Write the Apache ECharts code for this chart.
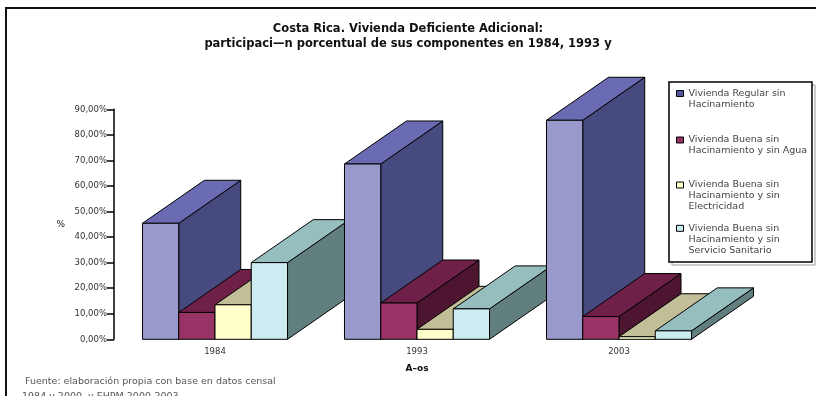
<!DOCTYPE html>
<html>
<head>
<meta charset="utf-8">
<script src="https://cdn.jsdelivr.net/npm/echarts@6/dist/echarts.min.js"></script>
<style>
  html, body { margin: 0; padding: 0; background: #fff; }
  #chart { width: 816px; height: 396px; }
</style>
</head>
<body>
<div id="chart"></div>
<script>
// Años del censo / encuesta
const years = ['1984', '1993', '2003'];

// Participación porcentual de cada componente (%)
const regularSinHacinamiento = [45.4, 68.6, 85.7];
const buenaSinAgua = [10.5, 14.2, 8.9];
const buenaSinElectricidad = [13.5, 3.9, 1.0];
const buenaSinSanitario = [30.0, 11.9, 3.3];

const seriesNames = [
  'Vivienda Regular sin\nHacinamiento',
  'Vivienda Buena sin\nHacinamiento y sin Agua',
  'Vivienda Buena sin\nHacinamiento y sin\nElectricidad',
  'Vivienda Buena sin\nHacinamiento y sin\nServicio Sanitario'
];

// Escala del eje de valores
const yMin = 0;
const yMax = 90;
const yStep = 10;

const FONT = 'DejaVu Sans';

// Front / top / side shading of each box, plus the legend key colour
const SHADES = [
  { front: '#9999cc', top: '#6b6bb3', side: '#474a7e', key: '#55559c' },
  { front: '#993366', top: '#6e2048', side: '#4d1530', key: '#993366' },
  { front: '#ffffcc', top: '#c2bf98', side: '#8c8a6e', key: '#ffffcc' },
  { front: '#ccecf1', top: '#96bebe', side: '#627f7f', key: '#ccecf1' }
];

// Oblique projection of the box depth
const DEPTH_X = 62;
const DEPTH_Y = -43;
// Width of one box as a share of the category band
const BAR_SHARE = 0.1795;
const SERIES_COUNT = 4;

function boxRenderer(k) {
  return function (params, api) {
    const cat = api.value(0);
    const v = api.value(1);
    const base = api.coord([cat, 0]);
    const head = api.coord([cat, v]);
    const w = api.size([1, 0])[0] * BAR_SHARE;
    const x0 = base[0] - (SERIES_COUNT / 2) * w + k * w;
    const x1 = x0 + w;
    const yb = base[1];
    const yt = head[1];
    // paint order: category by category, left to right inside each cluster
    const z2 = cat * 10 + k;
    const c = SHADES[k];
    const edge = { stroke: '#000', lineWidth: 1, lineJoin: 'miter' };
    return {
      type: 'group',
      children: [
        {
          type: 'polygon', z2: z2,
          shape: { points: [[x1, yb], [x1 + DEPTH_X, yb + DEPTH_Y], [x1 + DEPTH_X, yt + DEPTH_Y], [x1, yt]] },
          style: Object.assign({ fill: c.side }, edge)
        },
        {
          type: 'polygon', z2: z2,
          shape: { points: [[x0, yt], [x1, yt], [x1 + DEPTH_X, yt + DEPTH_Y], [x0 + DEPTH_X, yt + DEPTH_Y]] },
          style: Object.assign({ fill: c.top }, edge)
        },
        {
          type: 'polygon', z2: z2,
          shape: { points: [[x0, yb], [x1, yb], [x1, yt], [x0, yt]] },
          style: Object.assign({ fill: c.front }, edge)
        }
      ]
    };
  };
}

const seriesValues = [regularSinHacinamiento, buenaSinAgua, buenaSinElectricidad, buenaSinSanitario];

const series = seriesValues.map(function (vals, k) {
  return {
    type: 'custom',
    name: seriesNames[k],
    renderItem: boxRenderer(k),
    itemStyle: { color: SHADES[k].front },
    encode: { x: 0, y: 1 },
    data: vals.map(function (v, i) { return [i, v]; })
  };
});

// One legend block per series; blank lines above keep the key square
// level with the first line of its (vertically centred) text
const LINE_H = 11;
const KEY_CENTER_Y = [93.5, 140, 185, 228.3];
const legends = seriesNames.map(function (name, k) {
  const lines = name.split('\n').length;
  const lead = new Array(lines).join('\n');
  return {
    data: [{ name: name, itemStyle: { color: SHADES[k].key, borderColor: '#000', borderWidth: 1 } }],
    formatter: function (n) { return lead + n; },
    left: 676,
    top: KEY_CENTER_Y[k] - (2 * lines - 1) * LINE_H / 2,
    padding: 0,
    icon: 'rect',
    itemWidth: 7,
    itemHeight: 6,
    selectedMode: false,
    textStyle: {
      fontFamily: FONT,
      fontSize: 9.5,
      lineHeight: LINE_H,
      color: '#444'
    }
  };
});

const chart = echarts.init(document.getElementById('chart'), null, { renderer: 'canvas' });

chart.setOption({
  animation: false,
  backgroundColor: '#fff',
  title: {
    text: 'Costa Rica. Vivienda Deficiente Adicional:\nparticipaci\u2014n porcentual de sus componentes en 1984, 1993 y',
    left: 'center',
    top: 21.5,
    padding: 0,
    textStyle: { fontFamily: FONT, fontSize: 11.5, fontWeight: 'bold', lineHeight: 15, color: '#111' }
  },
  legend: legends,
  grid: { left: 114, right: 96, top: 109.3, bottom: 56.7, containLabel: false },
  xAxis: {
    type: 'category',
    data: years,
    axisLine: { show: false },
    axisTick: { show: false },
    splitLine: { show: false },
    axisLabel: { margin: 8, fontFamily: FONT, fontSize: 8.5, color: '#333' },
    name: 'A\u2013os',
    nameLocation: 'middle',
    nameGap: 25,
    nameTextStyle: { fontFamily: FONT, fontSize: 9, fontWeight: 'bold', color: '#111' }
  },
  yAxis: {
    type: 'value',
    min: yMin,
    max: yMax,
    interval: yStep,
    axisLine: { show: true, lineStyle: { color: '#000', width: 1.5 } },
    axisTick: { show: true, length: 7, lineStyle: { color: '#000', width: 1.5 } },
    splitLine: { show: false },
    axisLabel: {
      margin: 7,
      fontFamily: FONT,
      fontSize: 8.5,
      color: '#333',
      formatter: function (v) { return v.toFixed(2).replace('.', ',') + '%'; }
    },
    name: '%',
    nameLocation: 'middle',
    nameRotate: 0,
    nameGap: 49,
    nameTextStyle: { fontFamily: FONT, fontSize: 9, color: '#222' }
  },
  graphic: [
    { type: 'rect', z: 0, silent: true, shape: { x: 6, y: 8, width: 900, height: 500 }, style: { fill: 'none', stroke: '#111', lineWidth: 2 } },
    { type: 'rect', z: 0, silent: true, shape: { x: 672, y: 85, width: 143, height: 180 }, style: { fill: 'none', stroke: '#999', lineWidth: 1 } },
    { type: 'rect', z: 0, silent: true, shape: { x: 669, y: 82, width: 143, height: 180 }, style: { fill: '#fff', stroke: '#000', lineWidth: 1.5 } },
    { type: 'text', z: 0, silent: true, left: 25, top: 377, style: { text: 'Fuente: elaboraci\u00f3n propia con base en datos censal', font: '9.5px "DejaVu Sans"', fill: '#555' } },
    { type: 'text', z: 0, silent: true, left: 22, top: 391.5, style: { text: '1984 y 2000, y EHPM 2000-2003', font: '9.5px "DejaVu Sans"', fill: '#555' } }
  ],
  series: series
});
</script>
</body>
</html>
